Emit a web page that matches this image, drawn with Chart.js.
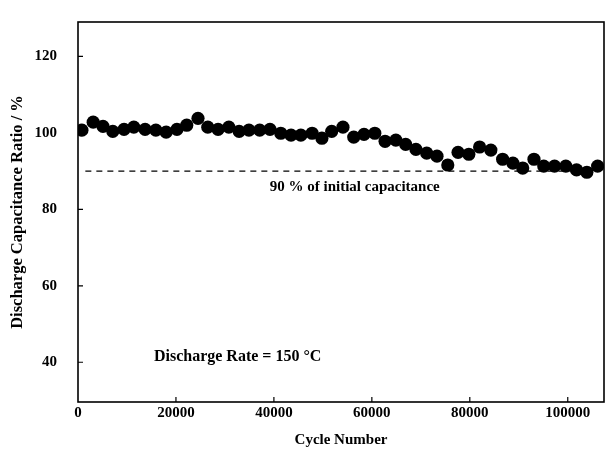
<!DOCTYPE html>
<html>
<head>
<meta charset="utf-8">
<script src="https://cdn.jsdelivr.net/npm/chart.js@4/dist/chart.umd.min.js"></script>
<style>
html,body{margin:0;padding:0;background:#fff;}
canvas{display:block;}
</style>
</head>
<body>
<canvas id="c" width="612" height="456"></canvas>
<script>
const cycles = [800,3100,5100,7100,9400,11400,13700,15900,18000,20200,22200,24500,26500,28600,30800,32900,34900,37100,39200,41400,43500,45500,47800,49800,51800,54100,56300,58400,60600,62700,64900,66900,69000,71200,73300,75500,77600,79800,82000,84300,86700,88800,90800,93100,95100,97300,99600,101800,103900,106100];
const ratio = [100.7,102.8,101.7,100.4,100.9,101.5,100.9,100.7,100.2,100.9,102.0,103.8,101.5,100.9,101.5,100.4,100.7,100.7,100.9,99.9,99.4,99.4,99.9,98.6,100.4,101.5,98.9,99.6,99.9,97.8,98.1,97.0,95.7,94.7,93.9,91.6,94.9,94.4,96.3,95.5,93.1,92.1,90.8,93.1,91.3,91.3,91.3,90.3,89.7,91.3];
const thresholdX = [1500, 105000];
const thresholdY = [90, 90];
const xTicks = [0, 20000, 40000, 60000, 80000, 100000];
const yTicks = [40, 60, 80, 100, 120];
const xTitle = 'Cycle Number';
const yTitle = 'Discharge Capacitance Ratio / %';
const noteThreshold = '90 % of initial capacitance';
const noteRate = 'Discharge Rate = 150 \u00B0C';

const FONT = "'Liberation Serif', 'Times New Roman', serif";

const points = cycles.map((c, i) => ({x: c, y: ratio[i]}));
const threshold = thresholdX.map((c, i) => ({x: c, y: thresholdY[i]}));

const framePlugin = {
  id: 'frame',
  beforeDraw(chart) {
    const ctx = chart.ctx;
    ctx.save();
    ctx.fillStyle = '#fff';
    ctx.fillRect(0, 0, chart.width, chart.height);
    ctx.restore();
  },
  afterDraw(chart) {
    const {ctx, chartArea: a, scales} = chart;
    ctx.save();
    ctx.strokeStyle = '#000';
    ctx.lineWidth = 1.6;
    ctx.strokeRect(a.left, a.top, a.right - a.left, a.bottom - a.top);
    ctx.lineWidth = 1.2;
    ctx.beginPath();
    xTicks.forEach(v => {
      const px = scales.x.getPixelForValue(v);
      if (v !== 0) { ctx.moveTo(px, a.bottom); ctx.lineTo(px, a.bottom - 5); }
    });
    yTicks.forEach(v => {
      const py = scales.y.getPixelForValue(v);
      ctx.moveTo(a.left, py); ctx.lineTo(a.left + 5, py);
    });
    ctx.stroke();
    // annotations
    ctx.fillStyle = '#000';
    ctx.textBaseline = 'middle';
    ctx.textAlign = 'center';
    ctx.font = "bold 15px " + FONT;
    ctx.fillText(noteThreshold, scales.x.getPixelForValue(56500), scales.y.getPixelForValue(85.8));
    ctx.textAlign = 'left';
    ctx.font = "bold 16px " + FONT;
    ctx.fillText(noteRate, scales.x.getPixelForValue(15500), scales.y.getPixelForValue(41.4));
    ctx.restore();
  }
};

new Chart(document.getElementById('c'), {
  type: 'scatter',
  data: {
    datasets: [
      {
        data: points,
        pointRadius: 6.6,
        pointBackgroundColor: '#000',
        pointBorderColor: '#000',
        pointBorderWidth: 0,
        showLine: false
      },
      {
        data: threshold,
        showLine: true,
        borderColor: '#000',
        borderWidth: 1.4,
        borderDash: [6, 5],
        pointRadius: 0,
        fill: false
      }
    ]
  },
  options: {
    responsive: false,
    animation: false,
    events: [],
    layout: {padding: {top: 20, right: 8, left: 0, bottom: 0}},
    plugins: {legend: {display: false}, tooltip: {enabled: false}},
    scales: {
      x: {
        type: 'linear',
        min: 0,
        max: 107400,
        afterBuildTicks: s => { s.ticks = xTicks.map(v => ({value: v})); },
        afterFit: s => { s.height = 54; },
        grid: {display: false},
        border: {display: false},
        ticks: {
          color: '#000',
          font: {family: FONT, size: 15, weight: 'bold'},
          padding: -6,
          maxRotation: 0,
          autoSkip: false,
          callback: v => String(v)
        },
        title: {
          display: true,
          text: xTitle,
          color: '#000',
          font: {family: FONT, size: 15, weight: 'bold'},
          padding: {top: 0, bottom: 7}
        }
      },
      y: {
        type: 'linear',
        min: 29.6,
        max: 129,
        afterBuildTicks: s => { s.ticks = yTicks.map(v => ({value: v})); },
        afterFit: s => { s.width = 78; },
        grid: {display: false},
        border: {display: false},
        ticks: {
          color: '#000',
          font: {family: FONT, size: 15, weight: 'bold'},
          padding: 13,
          callback: v => String(v)
        },
        title: {
          display: true,
          text: yTitle,
          color: '#000',
          font: {family: FONT, size: 16.5, weight: 'bold'},
          padding: {top: 8, bottom: 0}
        }
      }
    }
  },
  plugins: [framePlugin]
});
</script>
</body>
</html>
